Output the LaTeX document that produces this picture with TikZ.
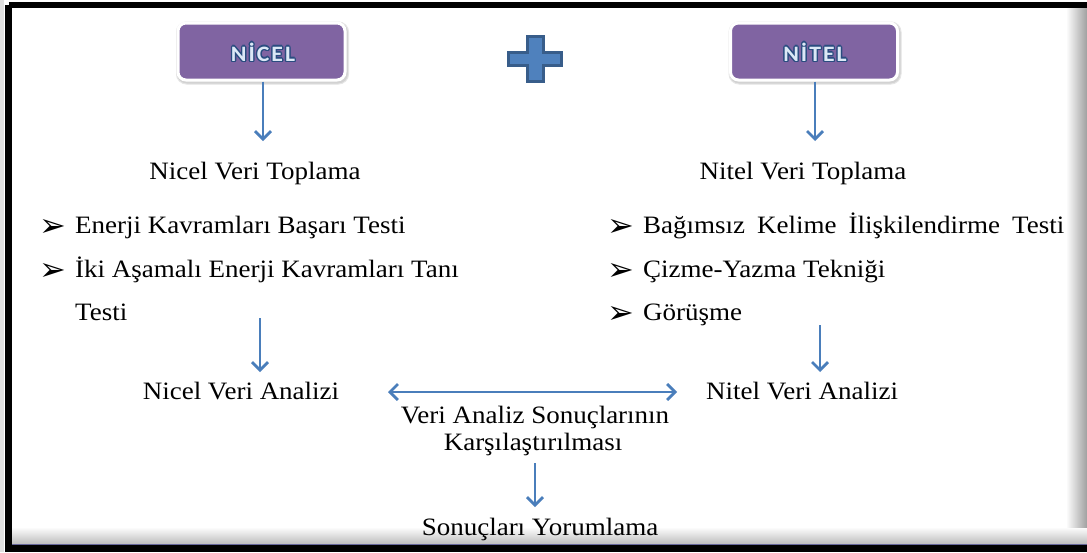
\documentclass[tikz,border=0pt]{standalone}
\usepackage{fontspec}
\setmainfont{Liberation Serif}[FakeStretch=1.08]
\newfontfamily\dejavu{DejaVu Sans}
\newfontfamily\carl{Carlito}[FakeStretch=1.08]
\usetikzlibrary{arrows.meta,shadows}
\definecolor{boxpurple}{HTML}{8064A2}
\definecolor{arrblue}{HTML}{4A7EBB}
\definecolor{plusfill}{HTML}{4F81BD}
\definecolor{plusline}{HTML}{385D8A}
\definecolor{outl}{HTML}{2A4C80}
\definecolor{inner}{HTML}{DCE8F6}
\tikzset{
  purplebox/.style={rounded corners=8pt,fill=boxpurple,draw=white,line width=3pt,
    minimum width=167pt,minimum height=57pt},
  boxglow/.style={rounded corners=10pt,fill=gray!35,draw=gray!20,line width=1pt,
    minimum width=172pt,minimum height=62pt},
  boxtxt/.style={font=\carl\bfseries\fontsize{22}{26}\selectfont,inner sep=0pt},
  arr/.style={draw=arrblue,line width=2.8pt,-{Straight Barb[length=8pt,width=16pt,line width=2.8pt]}},
  darr/.style={draw=arrblue,line width=2.8pt,{Straight Barb[length=8pt,width=16pt,line width=2.8pt]}-{Straight Barb[length=8pt,width=16pt,line width=2.8pt]}},
  txt/.style={font=\fontsize{25}{30}\selectfont,inner sep=0pt,anchor=base},
  ltxt/.style={font=\fontsize{25}{30}\selectfont,inner sep=0pt,anchor=base west},
  bul/.style={font=\dejavu\fontsize{32}{36}\selectfont,inner sep=0pt,anchor=base west},
}
\begin{document}
\begin{tikzpicture}[x=1pt,y=-1pt]
\useasboundingbox (0,0) rectangle (1087,552);
% frame
\fill[white] (0,0) rectangle (1087,552);
\fill[gray!25] (0,0) rectangle (4,552);
\shade[top color=white,bottom color=gray!55] (12,527) rectangle (1087,545);
\fill[white] (12,8) rectangle (1066,527);
\shade[left color=white,right color=gray!75] (1066,8) rectangle (1087,527);
\draw[line width=6.5pt,black] (8.5,5) -- (1100,5);
\draw[line width=7pt,black] (8.5,5) -- (8.5,549);
\fill[black] (5,545) rectangle (1087,552);
\draw[line width=1.5pt,gray!80!blue] (12,544.5) -- (1087,544.5);
% boxes
\node[boxglow] (nicelg) at (262.5,53) {};
\node[boxglow] (nitelg) at (815,53) {};
\node[purplebox] (nicel) at (261.5,51.5) {};
\node[purplebox] (nitel) at (814,51.5) {};
\foreach \p/\t in {{263,52}/{N\kern2ptİ\kern2ptC\kern2ptE\kern2ptL},{815,52}/{N\kern2ptİ\kern2ptT\kern2ptE\kern2ptL}}{
  \foreach \a in {0,45,...,315}{\node[boxtxt,text=outl] at ([shift={(\a:1.4)}]\p) {\t};}
  \node[boxtxt,text=inner] at (\p) {\t};
}
% plus
\draw[fill=plusfill,draw=plusline,line width=3pt,line join=miter]
  (527.5,36.5) -- (543.5,36.5) -- (543.5,52.5) -- (561.5,52.5) -- (561.5,65.5) -- (543.5,65.5)
  -- (543.5,81.5) -- (527.5,81.5) -- (527.5,65.5) -- (508.5,65.5) -- (508.5,52.5) -- (527.5,52.5) -- cycle;
% texts
\node[txt] (nvt) at (255,179) {Nicel Veri Toplama};
\node[txt] (tvt) at (803,179) {Nitel Veri Toplama};
\node[bul] (b1) at (39,236) {➢};
\node[bul] (b2) at (39,280) {➢};
\node[ltxt] (l1) at (75,233) {Enerji Kavramları Başarı Testi};
\node[ltxt] (l2) at (75,277) {İki Aşamalı Enerji Kavramları Tanı};
\node[ltxt] (l3) at (75,320) {Testi};
\node[bul] (b3) at (607,236) {➢};
\node[bul] (b4) at (607,280) {➢};
\node[bul] (b5) at (607,323) {➢};
\node[ltxt] (r1) at (643,233) {\makebox[421pt][s]{Bağımsız Kelime İlişkilendirme Testi}};
\node[ltxt] (r2) at (643,277) {Çizme-Yazma Tekniği};
\node[ltxt] (r3) at (643,320) {Görüşme};
\node[txt] (nva) at (241,399) {Nicel Veri Analizi};
\node[txt] (tva) at (802,399) {Nitel Veri Analizi};
\node[txt] (vas) at (535,423) {Veri Analiz Sonuçlarının};
\node[txt] (kar) at (533,450) {Karşılaştırılması};
\node[txt] (soy) at (540,535) {Sonuçları Yorumlama};
% arrows
\coordinate (t1) at (263,141);
\coordinate (t2) at (815,141);
\draw[arr] (nicel.south -| t1) -- (t1);
\draw[arr] (nitel.south -| t2) -- (t2);
\coordinate (s3) at (260,318);
\coordinate (e3) at (260,372);
\draw[arr] (s3) -- (e3);
\coordinate (s4) at (820,325);
\coordinate (e4) at (820,372);
\draw[arr] (s4) -- (e4);
\coordinate (d1) at (388,392);
\coordinate (d2) at (677,392);
\draw[darr] (d1) -- (d2);
\coordinate (s5) at (535,463);
\coordinate (e5) at (535,507);
\draw[arr] (s5) -- (e5);
\end{tikzpicture}
\end{document}
